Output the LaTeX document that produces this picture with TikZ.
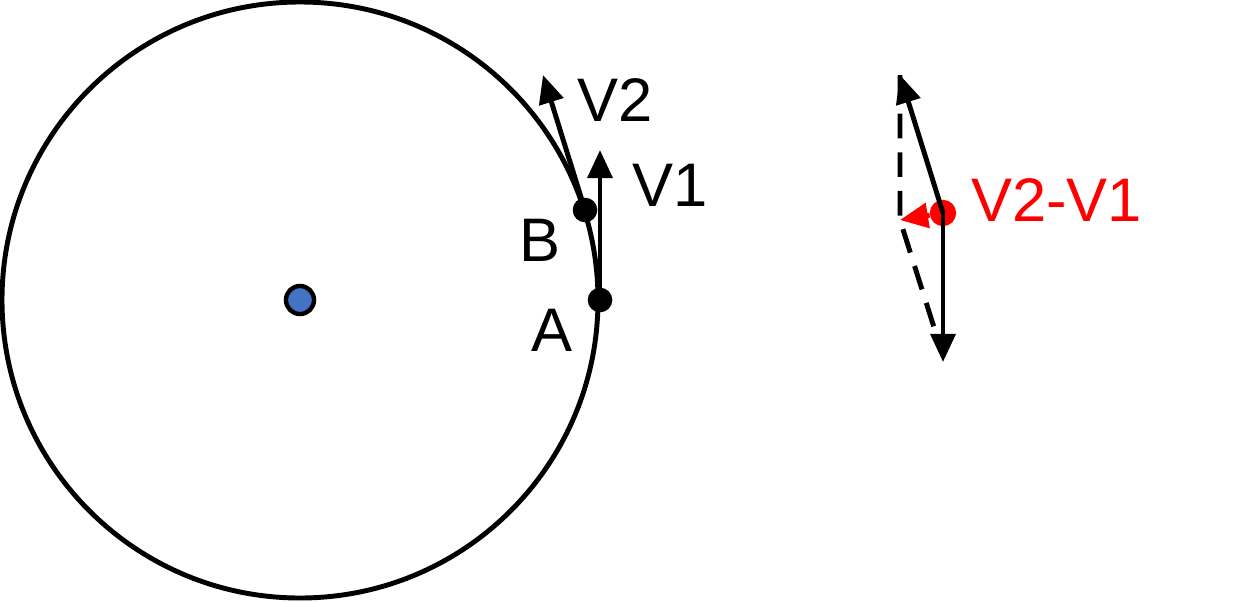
\documentclass[tikz,border=0pt]{standalone}
\usepackage{fontspec}
\setmainfont{Liberation Sans}
\usetikzlibrary{arrows.meta}
\begin{document}
\begin{tikzpicture}[x=0.02cm,y=-0.02cm,
  vec/.style={line width=2.8pt,-{Triangle[length=16pt,width=14pt]}},
  dot/.style={circle,fill=black,inner sep=0pt,minimum size=14pt},
  lbl/.style={font=\fontsize{35}{40}\selectfont}]
\useasboundingbox (0,0) rectangle (1234,602);
\draw[line width=2.8pt] (300,300) circle (298);
\node[circle,draw=black,line width=2.5pt,fill={rgb,255:red,68;green,114;blue,196},inner sep=0pt,minimum size=16pt] (O) at (300,300) {};
% velocities
\node[dot] (A) at (600,300) {};
\node[dot] (B) at (585,210) {};
\coordinate (v1) at (600,150);
\coordinate (v2) at (543,75);
\draw[vec] (A.center) -- (v1);
\draw[vec] (B.center) -- (v2);
\node[lbl] (lA) at (552,330) {A};
\node[lbl] (lB) at (540,240) {B};
\node[lbl] (lV1) at (670,185) {V1};
\node[lbl] (lV2) at (615,100) {V2};
% difference
\node[circle,fill=red,inner sep=0pt,minimum size=15pt] (C) at (943,213) {};
\coordinate (t2) at (900,75);
\coordinate (t1) at (943,362);
\coordinate (D) at (900,220);
\draw[line width=2.8pt,dash pattern=on 14pt off 8pt] (t2) -- (D) -- (938,340);
\draw[vec] (C.center) -- (t2);
\draw[vec] (C.center) -- (t1);
\draw[vec,red] (C) -- (D);
\node[lbl,red,anchor=west] (lD) at (965,200) {V2-V1};
\end{tikzpicture}
\end{document}
